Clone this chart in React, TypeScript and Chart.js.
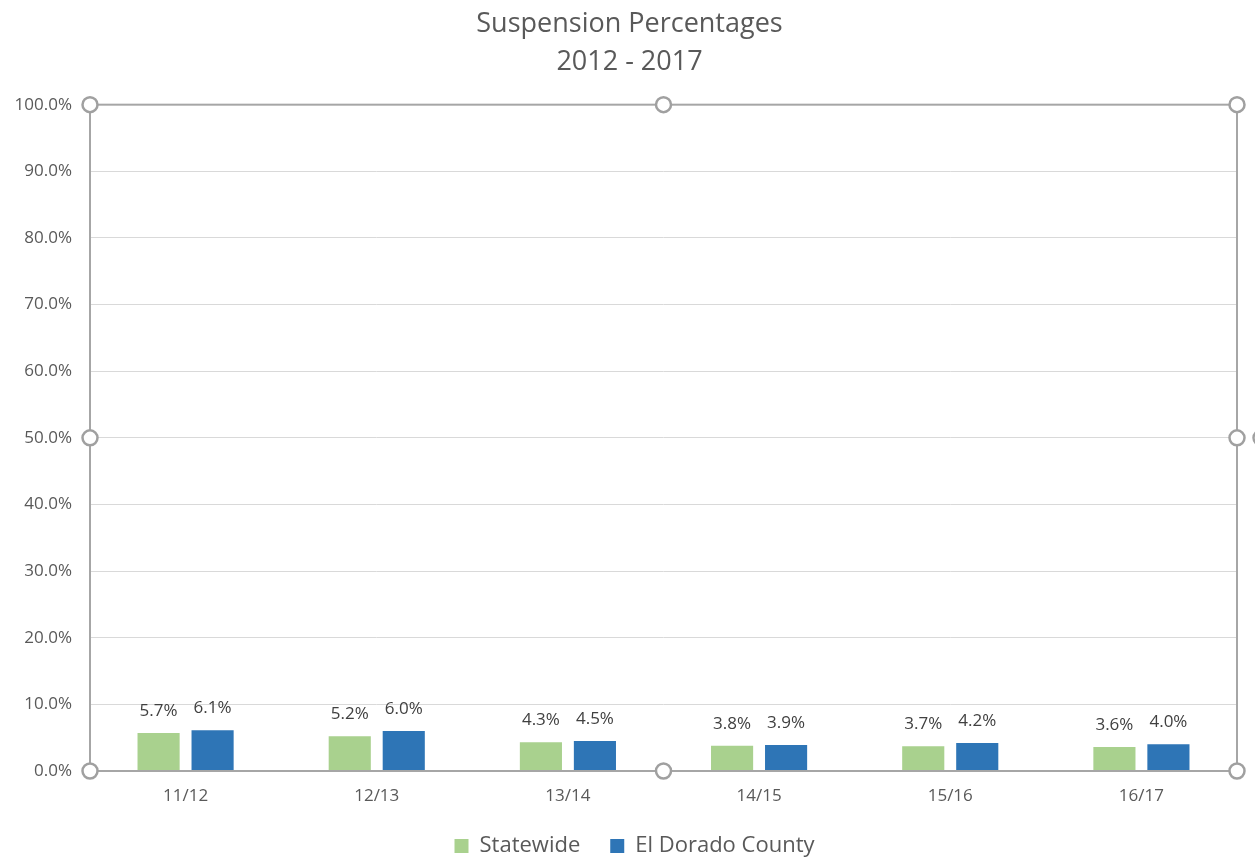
import React, { useEffect, useRef } from "react";
import { Chart, registerables } from "chart.js";

Chart.register(...registerables);

const categories = ["11/12", "12/13", "13/14", "14/15", "15/16", "16/17"];
const statewide = [5.7, 5.2, 4.3, 3.8, 3.7, 3.6];
const county = [6.1, 6.0, 4.5, 3.9, 4.2, 4.0];
const seriesNames = ["Statewide", "El Dorado County"];
const titleLines = ["Suspension Percentages", "2012 - 2017"];
const yMin = 0;
const yMax = 100;
const yStep = 10;

const FONT = "'Open Sans', 'DejaVu Sans', sans-serif";

const dataLabelPlugin = {
  id: "dataLabels",
  afterDatasetsDraw(chart: any) {
    const ctx = chart.ctx;
    ctx.save();
    ctx.font = `17px ${FONT}`;
    ctx.fillStyle = "#404040";
    ctx.textAlign = "center";
    ctx.textBaseline = "middle";
    chart.data.datasets.forEach((ds: any, di: number) => {
      const meta = chart.getDatasetMeta(di);
      meta.data.forEach((bar: any, i: number) => {
        const v = ds.data[i];
        ctx.fillText(v.toFixed(1) + "%", bar.x, bar.y - 22);
      });
    });
    ctx.restore();
  },
};

const shiftPlugin = {
  id: "boxShift",
  afterLayout(chart: any) {
    const lg = chart.legend;
    if (lg) {
      lg.left += 16;
      lg.right += 16;
    }
    const tb = chart.titleBlock;
    if (tb) {
      tb.left += 11;
      tb.right += 11;
    }
  },
};

const framePlugin = {
  id: "frame",
  afterDraw(chart: any) {
    const { left, right, top, bottom } = chart.chartArea;
    const ctx = chart.ctx;
    ctx.save();
    ctx.strokeStyle = "#a6a6a6";
    ctx.lineWidth = 2;
    ctx.strokeRect(left, top, right - left, bottom - top);
    const midX = (left + right) / 2;
    const midY = (top + bottom) / 2;
    const pts = [
      [left, top], [midX, top], [right, top],
      [left, midY], [right, midY],
      [left, bottom], [midX, bottom], [right, bottom],
      [right + 24, midY],
    ];
    pts.forEach(([x, y]) => {
      ctx.beginPath();
      ctx.arc(x, y, 7.5, 0, Math.PI * 2);
      ctx.fillStyle = "#ffffff";
      ctx.fill();
      ctx.lineWidth = 2.5;
      ctx.strokeStyle = "#a0a0a0";
      ctx.stroke();
    });
    ctx.restore();
  },
};

export default function App() {
  const ref = useRef<HTMLCanvasElement>(null);
  useEffect(() => {
    if (!ref.current) return;
    const chart = new Chart(ref.current, {
      type: "bar",
      data: {
        labels: categories,
        datasets: [
          {
            label: seriesNames[0],
            data: statewide,
            backgroundColor: "#a9d18e",
            categoryPercentage: 0.565,
            barPercentage: 0.78,
          },
          {
            label: seriesNames[1],
            data: county,
            backgroundColor: "#2e75b6",
            categoryPercentage: 0.565,
            barPercentage: 0.78,
          },
        ],
      },
      options: {
        responsive: false,
        animation: false,
        layout: { padding: { left: 0, right: 18, top: 0, bottom: -4 } },
        plugins: {
          title: {
            display: true,
            text: titleLines,
            color: "#595959",
            font: { family: FONT, size: 27, weight: "normal", lineHeight: 1.42 },
            padding: { top: 5, bottom: 23 },
          },
          legend: {
            display: true,
            position: "bottom",
            labels: {
              color: "#595959",
              font: { family: FONT, size: 22 },
              boxWidth: 14,
              boxHeight: 14,
              padding: 30,
            },
          },
          tooltip: { enabled: false },
        },
        scales: {
          x: {
            grid: { display: false, drawTicks: false },
            border: { display: false },
            ticks: { color: "#595959", font: { family: FONT, size: 17 }, padding: 15 },
            afterFit: (s: any) => {
              s.height = 34;
            },
          },
          y: {
            min: yMin,
            max: yMax,
            grid: { color: "#d9d9d9", lineWidth: 1, drawTicks: false },
            border: { display: false },
            ticks: {
              stepSize: yStep,
              color: "#595959",
              font: { family: FONT, size: 17 },
              padding: 18,
              callback: (v: any) => Number(v).toFixed(1) + "%",
            },
            afterFit: (s: any) => {
              s.width = 90;
            },
          },
        },
      },
      plugins: [dataLabelPlugin, shiftPlugin, framePlugin],
    });
    return () => chart.destroy();
  }, []);
  return (
    <div style={{ position: "absolute", left: 0, top: 0, width: 1255, height: 863, background: "#fff" }}>
      <canvas ref={ref} width={1255} height={863} />
    </div>
  );
}
